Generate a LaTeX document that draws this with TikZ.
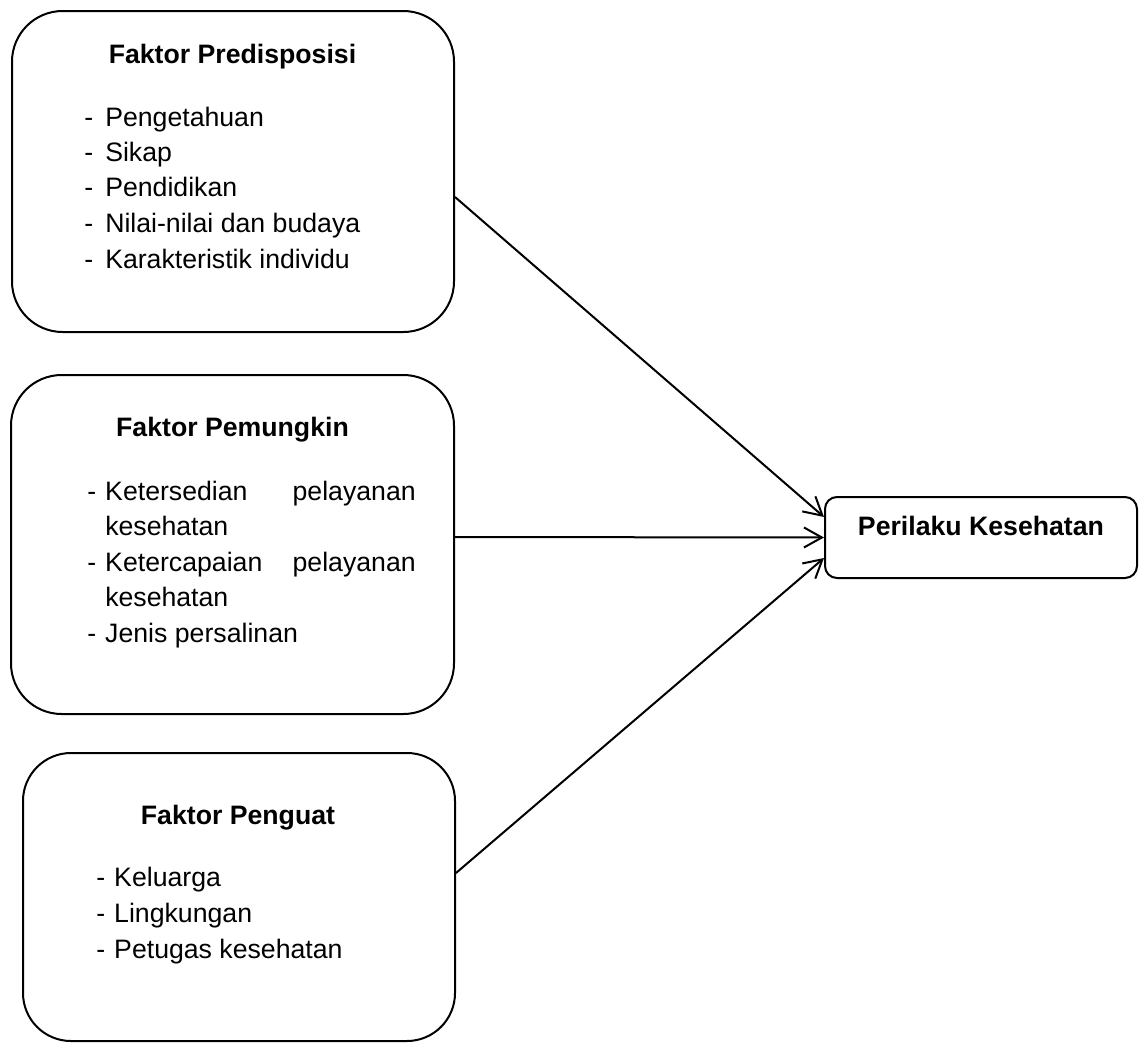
\documentclass[tikz,border=0pt]{standalone}
\usepackage{fontspec}
\setmainfont{Liberation Sans}
\usetikzlibrary{arrows.meta,calc}
\begin{document}
\begin{tikzpicture}[x=0.75pt,y=-0.75pt,
  bigbox/.style={draw, line width=1.5pt, rounded corners=38pt, inner sep=0pt},
  smallbox/.style={draw, line width=1.5pt, rounded corners=9pt, inner sep=0pt},
  ttl/.style={anchor=base, inner sep=0pt, font=\fontsize{20}{24}\selectfont\bfseries},
  itm/.style={anchor=base west, inner sep=0pt, font=\fontsize{20}{24}\selectfont},
  itmr/.style={anchor=base east, inner sep=0pt, font=\fontsize{20}{24}\selectfont},
  conn/.style={line width=1.5pt, -{Straight Barb[length=13.5pt, width=15pt, line width=1.5pt]}}
]
\useasboundingbox (0,0) rectangle (1140,1043);
% boxes
\node (b1) [bigbox, minimum width=331.5pt, minimum height=240.75pt] at (233,171.5) {};
\node (b2) [bigbox, minimum width=332.25pt, minimum height=254.25pt] at (232.5,544.5) {};
\node (b3) [bigbox, rounded corners=36pt, minimum width=324pt, minimum height=216pt] at (239,897) {};
\node (pk) [smallbox, minimum width=234pt, minimum height=60.75pt] at (981,537.5) {};
% titles
\node (t1) [ttl] at (232.5,63) {Faktor Predisposisi};
\node (t2) [ttl] at (232.5,436) {Faktor Pemungkin};
\node (t3) [ttl] at (238,824) {Faktor Penguat};
\node (tk) [ttl] at (981,535) {Perilaku Kesehatan};
% box 1 items
\node (a1) [itm] at (84,126) {\makebox[15.75pt][l]{-}Pengetahuan};
\node (a2) [itm] at (84,161) {\makebox[15.75pt][l]{-}Sikap};
\node (a3) [itm] at (84,196.7) {\makebox[15.75pt][l]{-}Pendidikan};
\node (a4) [itm] at (84,232.3) {\makebox[15.75pt][l]{-}Nilai-nilai dan budaya};
\node (a5) [itm] at (84,268.3) {\makebox[15.75pt][l]{-}Karakteristik individu};
% box 2 items
\node (c1) [itm] at (87,500) {\makebox[13.5pt][l]{-}Ketersedian};
\node (c1r) [itmr] at (416,500) {pelayanan};
\node (c2) [itm] at (105,535.5) {kesehatan};
\node (c3) [itm] at (87,571) {\makebox[13.5pt][l]{-}Ketercapaian};
\node (c3r) [itmr] at (416,571) {pelayanan};
\node (c4) [itm] at (105,606.5) {kesehatan};
\node (c5) [itm] at (87,642) {\makebox[13.5pt][l]{-}Jenis persalinan};
% box 3 items
\node (d1) [itm] at (96,886) {\makebox[13.5pt][l]{-}Keluarga};
\node (d2) [itm] at (96,922) {\makebox[13.5pt][l]{-}Lingkungan};
\node (d3) [itm] at (96,958) {\makebox[13.5pt][l]{-}Petugas kesehatan};
% connectors
\draw[conn] ($(b1.east)+(0,25.5)$) -- ($(pk.west)+(0,-20.5)$);
\draw[conn] ($(b2.east)+(0,-7.5)$) -- ($(pk.west)+(0,0)$);
\draw[conn] ($(b3.east)+(0,-24)$) -- ($(pk.west)+(0,20.5)$);
\end{tikzpicture}
\end{document}
